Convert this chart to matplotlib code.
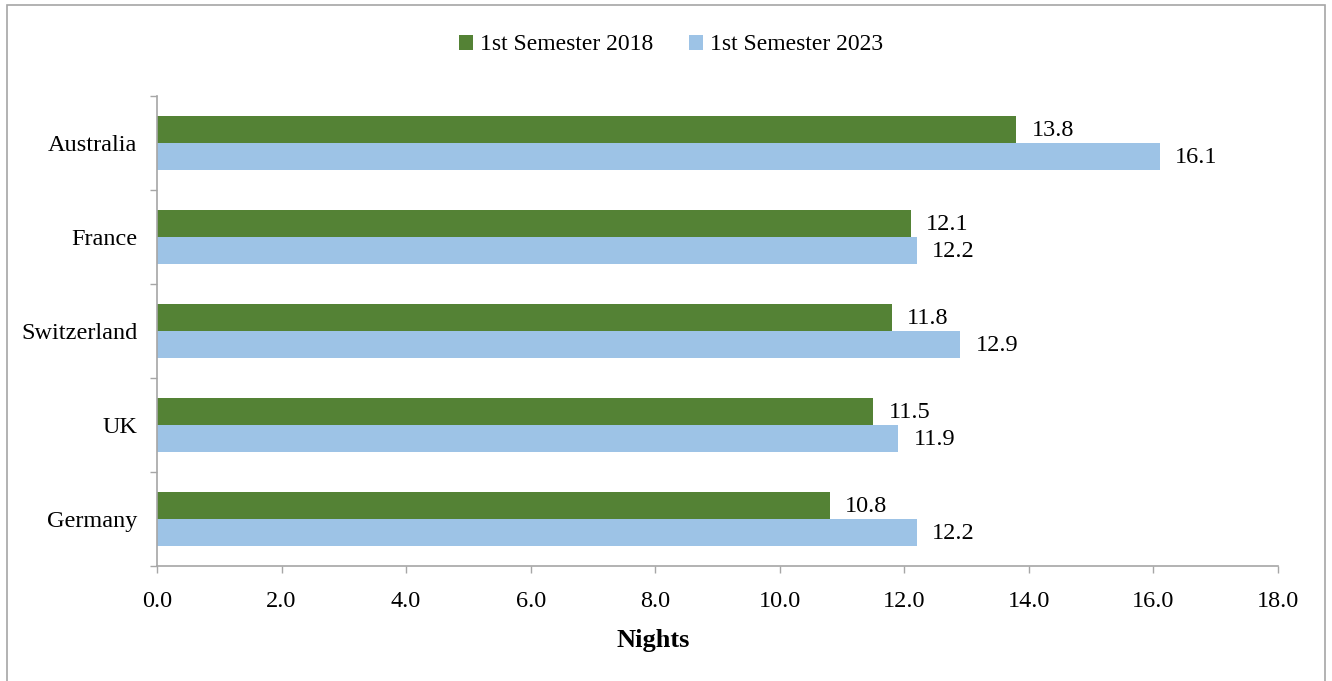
import numpy as np
import matplotlib
matplotlib.use("Agg")
import matplotlib.pyplot as plt
from matplotlib.patches import Rectangle

countries = ["Australia", "France", "Switzerland", "UK", "Germany"]
sem_2018 = [13.8, 12.1, 11.8, 11.5, 10.8]
sem_2023 = [16.1, 12.2, 12.9, 11.9, 12.2]
labels = ["1st Semester 2018", "1st Semester 2023"]
xticks = [0, 2, 4, 6, 8, 10, 12, 14, 16, 18]

C_GREEN = "#548235"
C_BLUE = "#9DC3E6"
C_AXIS = "#A6A6A6"
FS = 17.5

plt.rcParams["font.family"] = ["Liberation Serif", "DejaVu Serif"]

fig = plt.figure(figsize=(13.32, 6.81), dpi=100)
ax = fig.add_axes([157 / 1332, 1 - 566 / 681, (1278 - 157) / 1332, (566 - 96) / 681])

n = len(countries)
y = np.arange(n)[::-1].astype(float)
h = 0.287
b1 = ax.barh(y + h / 2, sem_2018, h, color=C_GREEN, label=labels[0])
b2 = ax.barh(y - h / 2, sem_2023, h, color=C_BLUE, label=labels[1])

for rects, vals in ((b1, sem_2018), (b2, sem_2023)):
    for r, v in zip(rects, vals):
        ax.annotate(f"{v:.1f}", xy=(v, r.get_y() + r.get_height() / 2),
                    xytext=(11, -1), textcoords="offset points",
                    ha="left", va="center", fontsize=FS)

ax.set_xlim(0, 18)
ax.set_ylim(-0.5, n - 0.5)
ax.set_xticks(xticks)
ax.set_xticklabels([f"{t:.1f}" for t in xticks], fontsize=FS)
ax.set_yticks(y)
ax.set_yticklabels(countries, fontsize=FS)
ax.set_yticks(np.arange(n + 1) - 0.5, minor=True)
ax.tick_params(axis="y", which="major", length=0, pad=14)
ax.tick_params(axis="y", which="minor", length=5, color=C_AXIS, width=1)
ax.tick_params(axis="x", length=5, color=C_AXIS, width=1, pad=13)
for s in ("top", "right"):
    ax.spines[s].set_visible(False)
for s in ("left", "bottom"):
    ax.spines[s].set_color(C_AXIS)
    ax.spines[s].set_linewidth(1.2)

ax.set_xlabel("Nights", fontsize=19, fontweight="bold")
ax.xaxis.set_label_coords((653 - 157) / 1121, -0.135)

fig.legend(handles=[b1, b2], labels=labels, loc="center", bbox_to_anchor=(671 / 1332, 1 - 45 / 681),
           ncol=2, frameon=False, fontsize=17, handlelength=0.6, handleheight=0.6,
           handletextpad=0.3, columnspacing=1.5)

fig.patches.append(Rectangle((7 / 1332, -0.01), (1325 - 7) / 1332, 0.9927 + 0.01,
                             transform=fig.transFigure, fill=False,
                             edgecolor="#A6A6A6", linewidth=1.2))

fig.savefig("out.png", dpi=100)
